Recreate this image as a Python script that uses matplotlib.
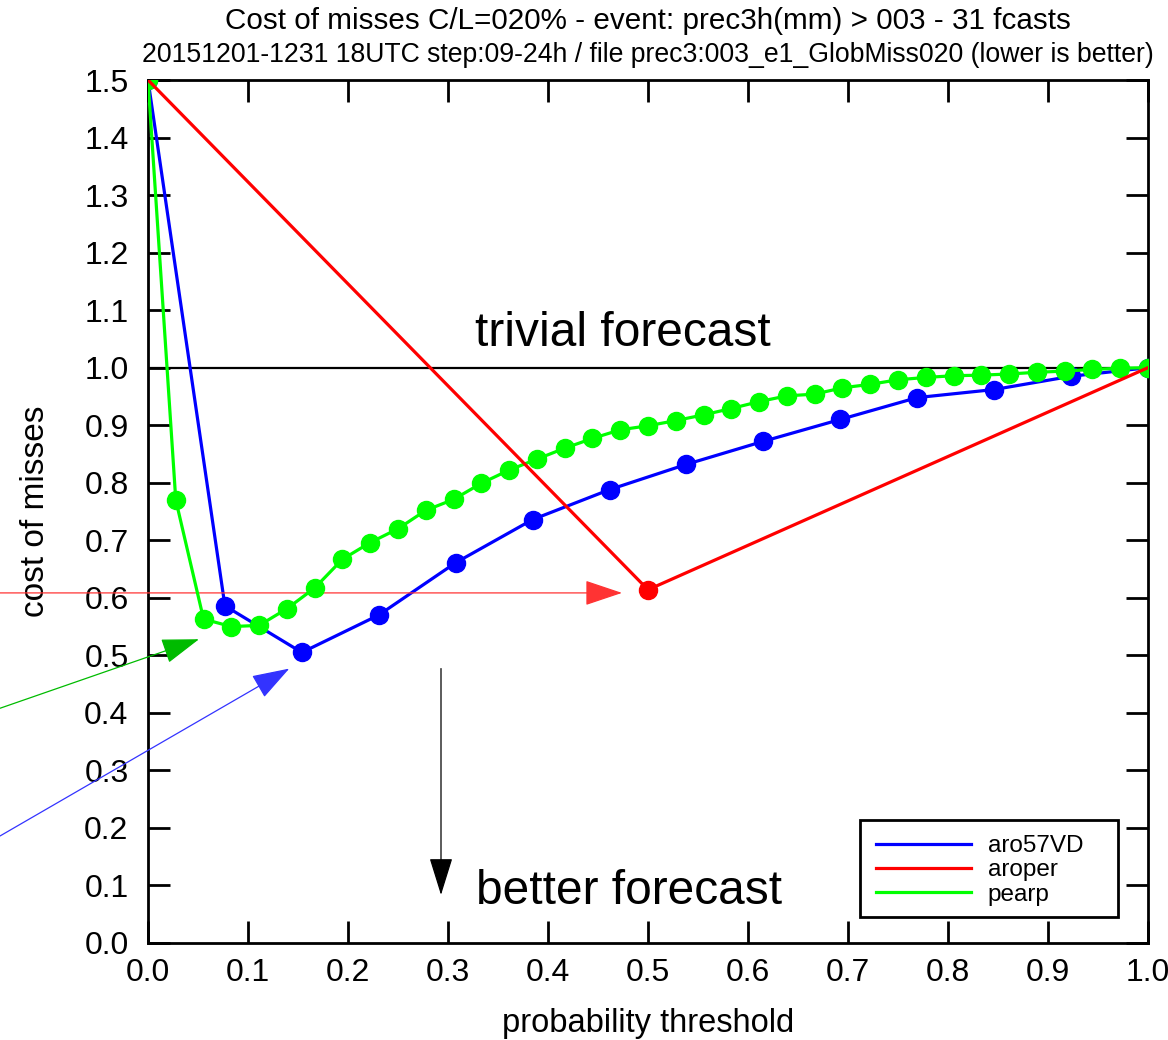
import matplotlib
matplotlib.use("Agg")
import matplotlib.pyplot as plt
from matplotlib.patches import Rectangle
import numpy as np

plt.rcParams['font.family'] = ['Liberation Sans', 'DejaVu Sans']

# ---- data ----
blue_name = "aro57VD"
blue_y = [1.5, 0.586, 0.505, 0.570, 0.661, 0.736, 0.788, 0.832, 0.872, 0.910,
          0.948, 0.962, 0.985, 1.0]
red_name = "aroper"
red_x = [0.0, 0.5, 1.0]
red_y = [1.5, 0.614, 1.0]
green_name = "pearp"
green_y = [1.5, 0.770, 0.563, 0.550, 0.552, 0.581, 0.617, 0.667, 0.696, 0.720,
           0.752, 0.771, 0.799, 0.822, 0.841, 0.860, 0.877, 0.892, 0.899, 0.908,
           0.918, 0.929, 0.941, 0.951, 0.954, 0.965, 0.971, 0.979, 0.983, 0.986,
           0.987, 0.989, 0.992, 0.994, 0.997, 0.999, 1.0]
blue_x = np.arange(len(blue_y)) / (len(blue_y) - 1)
green_x = np.arange(len(green_y)) / (len(green_y) - 1)

xticks = np.round(np.arange(0, 1.01, 0.1), 1)
yticks = np.round(np.arange(0, 1.51, 0.1), 1)

title1 = "Cost of misses C/L=020% - event: prec3h(mm) > 003 - 31 fcasts"
title2 = "20151201-1231 18UTC step:09-24h / file prec3:003_e1_GlobMiss020 (lower is better)"

W, H = 1168, 1040
fig = plt.figure(figsize=(W / 100, H / 100), dpi=100)
ax = fig.add_axes([148 / W, 1 - 943 / H, 1000 / W, 863 / H])
ax.set_xlim(0, 1)
ax.set_ylim(0, 1.5)

ax.axhline(1.0, color='black', lw=1.6, zorder=1)

lb, = ax.plot(blue_x, blue_y, color='#0000ff', lw=2.3, marker='o', ms=13,
              mec='#0000ff', mfc='#0000ff', zorder=3, label=blue_name)
lg, = ax.plot(green_x, green_y, color='#00ff00', lw=2.3, marker='o', ms=13,
              mec='#00ff00', mfc='#00ff00', zorder=4, label=green_name)
lr, = ax.plot(red_x, red_y, color='#ff0000', lw=2.3, marker='o', ms=13,
              markevery=[1], zorder=5, label=red_name)

ax.set_xticks(xticks)
ax.set_yticks(yticks)
ax.set_xticklabels([f"{v:.1f}" for v in xticks])
ax.set_yticklabels([f"{v:.1f}" for v in yticks])
ax.tick_params(direction='in', length=15.5, width=2.0, top=True, right=True,
               labelsize=23)
ax.tick_params(axis='y', pad=14)
ax.tick_params(axis='x', pad=11)
for s in ax.spines.values():
    s.set_linewidth(2.0)

ax.set_xlabel("probability threshold", fontsize=23.5, labelpad=14)
ax.set_ylabel("cost of misses", fontsize=24, labelpad=24)

fig.text(648 / W, 1 - 21 / H, title1, ha='center', va='center', fontsize=21.3)
fig.text(648 / W, 1 - 55 / H, title2, ha='center', va='center', fontsize=19.2)

ax.text(0.327, 1.037, "trivial forecast", fontsize=34.5, va='baseline', ha='left')
ax.text(0.328, 0.068, "better forecast", fontsize=34.5, va='baseline', ha='left')

def arrow(x0, y0, x1, y1, color, hl, hw):
    ax.annotate("", xy=(x1, y1), xytext=(x0, y0), xycoords='data',
                annotation_clip=False,
                arrowprops=dict(arrowstyle=f'-|>,head_length={hl},head_width={hw}',
                                color=color, lw=0.9, shrinkA=0, shrinkB=0,
                                mutation_scale=20, clip_on=False))

arrow(-0.148, 0.6085, 0.474, 0.6085, '#ff3333', 1.19, 0.4)
arrow(-0.148, 0.408, 0.051, 0.528, '#00bb00', 1.19, 0.4)
arrow(-0.148, 0.186, 0.1413, 0.477, '#3333ff', 1.19, 0.4)
arrow(0.293, 0.477, 0.293, 0.0835, '#000000', 1.19, 0.37)

leg = ax.legend(handles=[lb, lr, lg], loc='upper left',
                bbox_to_anchor=(876 / W, 1 - 835 / H), bbox_transform=fig.transFigure,
                borderaxespad=0, fontsize=17.5, frameon=False,
                handlelength=3.9, labelspacing=0.1, borderpad=0,
                handletextpad=0.7)
for l in leg.get_lines():
    l.set_linewidth(2.3)
    l.set_marker('')
fig.patches.append(Rectangle((860 / W, 1 - 917 / H), 258 / W, 97 / H,
                             transform=fig.transFigure, fill=False,
                             edgecolor='black', lw=2.0, zorder=10))

fig.savefig("out.png", dpi=100)
